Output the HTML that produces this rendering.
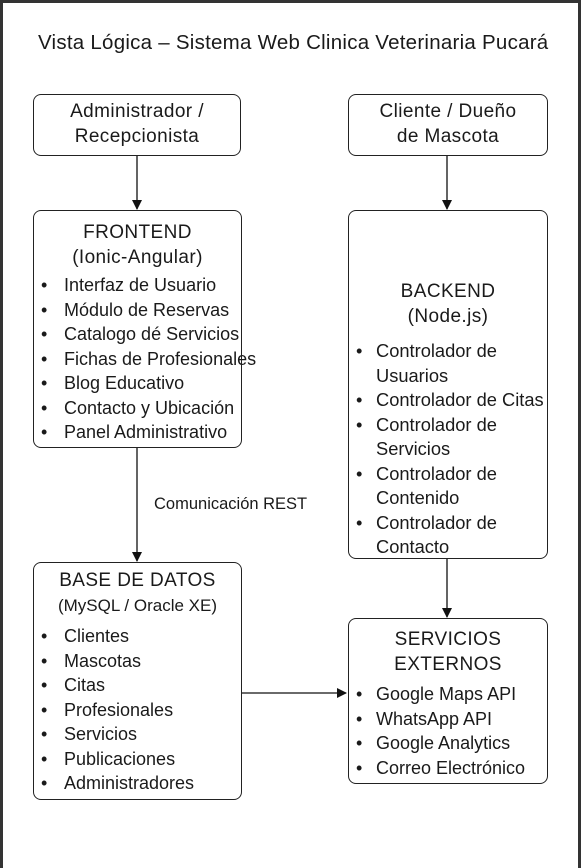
<!DOCTYPE html>
<html><head><meta charset="utf-8"><style>
html,body{margin:0;padding:0}
body{width:581px;height:865px;position:relative;background:#fff;font-family:"Liberation Sans",sans-serif;color:#1a1a1a;overflow:hidden}
.frame{position:absolute;left:0;top:0;width:575px;height:865px;border:3px solid #333;border-bottom:none}
.box{position:absolute;border:1.5px solid #222;border-radius:8px;box-sizing:border-box;background:#fff}
.t{position:absolute;font-size:18px;line-height:24.5px;white-space:nowrap}
.c{text-align:center;width:100%;left:0;font-size:19px;letter-spacing:0.4px}
ul{margin:0;padding:0;list-style:none}
li{position:relative;padding-left:30px}
li:before{content:"•";position:absolute;left:7px}
.r li{padding-left:27px}
</style></head><body>
<div class="frame"></div>
<div class="t" style="left:38px;top:31px;font-size:20.5px;letter-spacing:0.25px">Vista Lógica – Sistema Web Clinica Veterinaria Pucará</div>

<div class="box" style="left:33px;top:94px;width:208px;height:62px"><div class="t c" style="top:5px">Administrador /<br>Recepcionista</div></div>
<div class="box" style="left:348px;top:94px;width:200px;height:62px"><div class="t c" style="top:5px">Cliente / Dueño<br>de Mascota</div></div>

<div class="box" style="left:33px;top:210px;width:209px;height:238px">
<div class="t c" style="top:10px">FRONTEND<br>(Ionic-Angular)</div>
<ul class="t" style="top:62px;left:0">
<li>Interfaz de Usuario</li><li>Módulo de Reservas</li><li>Catalogo dé Servicios</li><li>Fichas de Profesionales</li><li>Blog Educativo</li><li>Contacto y Ubicación</li><li>Panel Administrativo</li></ul></div>

<div class="box" style="left:348px;top:210px;width:200px;height:349px">
<div class="t c" style="top:69px">BACKEND<br>(Node.js)</div>
<ul class="t r" style="top:128px;left:0;font-size:18.3px">
<li>Controlador de<br>Usuarios</li><li>Controlador de Citas</li><li>Controlador de<br>Servicios</li><li>Controlador de<br>Contenido</li><li>Controlador de<br>Contacto</li></ul></div>

<div class="t" style="left:154px;top:492px;font-size:16.5px">Comunicación REST</div>

<div class="box" style="left:33px;top:562px;width:209px;height:238px">
<div class="t c" style="top:6px">BASE DE DATOS<br><span style="font-size:17px;letter-spacing:0">(MySQL / Oracle XE)</span></div>
<ul class="t" style="top:61px;left:0">
<li>Clientes</li><li>Mascotas</li><li>Citas</li><li>Profesionales</li><li>Servicios</li><li>Publicaciones</li><li>Administradores</li></ul></div>

<div class="box" style="left:348px;top:618px;width:200px;height:166px">
<div class="t c" style="top:9px">SERVICIOS<br>EXTERNOS</div>
<ul class="t r" style="top:63px;left:0">
<li>Google Maps API</li><li>WhatsApp API</li><li>Google Analytics</li><li>Correo Electrónico</li></ul></div>

<svg width="581" height="865" style="position:absolute;left:0;top:0">
<defs><marker id="a" markerWidth="10" markerHeight="10" refX="9" refY="5" orient="auto" markerUnits="userSpaceOnUse"><path d="M0,0 L10,5 L0,10 z" fill="#111"/></marker></defs>
<g stroke="#111" stroke-width="1.3" fill="none">
<line x1="137" y1="156" x2="137" y2="209" marker-end="url(#a)"/>
<line x1="447" y1="156" x2="447" y2="209" marker-end="url(#a)"/>
<line x1="137" y1="448" x2="137" y2="561" marker-end="url(#a)"/>
<line x1="447" y1="559" x2="447" y2="617" marker-end="url(#a)"/>
<line x1="242" y1="693" x2="346" y2="693" marker-end="url(#a)"/>
</g></svg>
</body></html>
